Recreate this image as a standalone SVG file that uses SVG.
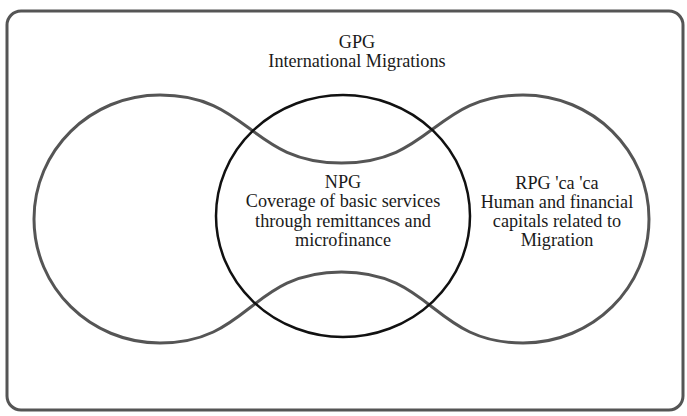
<svg xmlns="http://www.w3.org/2000/svg" width="687" height="416" viewBox="0 0 687 416">
  <style>
    .frame { fill: #ffffff; stroke: #555555; stroke-width: 3; }
    .lobes { fill: none; stroke: #555555; stroke-width: 3; }
    .core { fill: none; stroke: #111111; stroke-width: 2.5; }
    .label { font-family: "Liberation Serif", "Times New Roman", serif; font-size: 18.2px; fill: #1a1a1a; text-anchor: middle; }
  </style>
  <rect width="687" height="416" fill="#ffffff"/>
  <g id="frame">
    <rect class="frame" x="7" y="11" width="676" height="399" rx="14" ry="14"/>
  </g>
  <g id="gpg">
    <text class="label" x="357" y="48">GPG</text>
    <text class="label" x="357" y="67">International Migrations</text>
  </g>
  <g id="rpg">
    <!-- two outer lobes joined by wavy bridges through the middle -->
    <path class="lobes" d="M 34 219 C 34 150.5 90 95 160 95 C 250 95 250 163 341.5 163 C 433 163 433 95 523 95 C 593 95 649 150.5 649 219 C 649 287.5 593 343 523 343 C 433 343 433 272 341.5 272 C 250 272 250 343 160 343 C 90 343 34 287.5 34 219 Z"/>
    <text class="label" x="557" y="189">RPG 'ca 'ca</text>
    <text class="label" x="557" y="208">Human and financial</text>
    <text class="label" x="557" y="227">capitals related to</text>
    <text class="label" x="557" y="246">Migration</text>
  </g>
  <g id="npg">
    <ellipse class="core" cx="343" cy="216" rx="127" ry="121"/>
    <text class="label" x="343" y="188">NPG</text>
    <text class="label" x="343" y="207">Coverage of basic services</text>
    <text class="label" x="343" y="226.5">through remittances and</text>
    <text class="label" x="343" y="246">microfinance</text>
  </g>
</svg>
